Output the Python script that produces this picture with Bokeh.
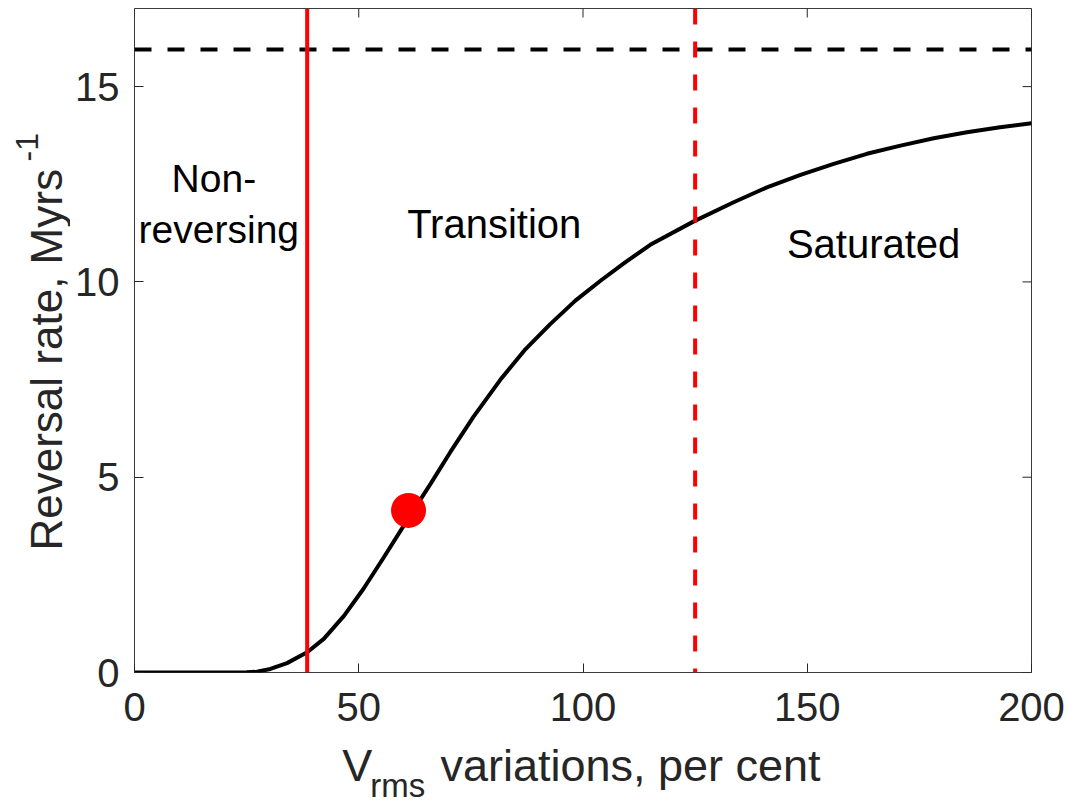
from math import pi
from bokeh.plotting import figure
from bokeh.layouts import row, column
from bokeh.models import Range1d, FixedTicker, Span, Label
from bokeh.core.properties import value
from bokeh.embed import file_html
from bokeh.resources import INLINE

# ---- data ----
vrms = [0, 10, 20, 25, 27.3, 30.3, 34.0, 38.5, 42.2, 46.7, 51.1, 55.6, 61.2, 66.0,
        70.4, 75.6, 81.6, 87.2, 92.7, 98.3, 103.9, 109.4, 115.0, 124.7, 133.6,
        141.0, 148.5, 155.9, 163.3, 170.8, 178.2, 185.6, 193.0, 200]
rate = [0, 0, 0, 0.005, 0.02, 0.09, 0.24, 0.52, 0.86, 1.45, 2.15, 2.95, 3.97, 4.83,
        5.64, 6.55, 7.5, 8.28, 8.92, 9.52, 10.03, 10.5, 10.95, 11.55, 12.04,
        12.42, 12.74, 13.02, 13.28, 13.49, 13.68, 13.83, 13.96, 14.06]
point_x = [61.1]
point_y = [4.15]
onset_vrms = 38.5        # red solid line
saturation_vrms = 125.0  # red dashed line
max_rate = 15.95         # black dashed line
x_ticks = [0, 50, 100, 150, 200]
y_ticks = [0, 5, 10, 15]
regions = ["Non-", "reversing", "Transition", "Saturated"]
xlabel_parts = ["V", "rms", "variations, per cent"]
ylabel_parts = ["Reversal rate, Myrs", "-1"]

AX = "#262626"
FONT = "Liberation Sans"
X_MIN, X_MAX, Y_MIN, Y_MAX = 0, 200, 0, 17

LEFT_W = 70      # width of the y-label strip
BOTTOM_H = 67    # height of the x-label strip
W, H = 1067, 804

# ---------------- main plot ----------------
p = figure(width=W - LEFT_W, height=H - BOTTOM_H, output_backend="svg",
           toolbar_location=None,
           x_range=Range1d(X_MIN, X_MAX), y_range=Range1d(Y_MIN, Y_MAX),
           min_border_left=134 - LEFT_W, min_border_right=36, min_border_top=8,
           min_border_bottom=H - BOTTOM_H - 672)
p.background_fill_color = "white"
p.border_fill_color = "white"
p.grid.visible = False
p.outline_line_color = "#3a3a3a"
p.outline_line_width = 1

p.xaxis.ticker = FixedTicker(ticks=x_ticks)
p.yaxis.ticker = FixedTicker(ticks=y_ticks)
for ax in (p.xaxis[0], p.yaxis[0]):
    ax.axis_line_color = None
    ax.major_tick_in = 9
    ax.major_tick_out = 0
    ax.major_tick_line_color = AX
    ax.minor_tick_line_color = None
    ax.major_label_text_font = FONT
    ax.major_label_text_font_size = "40px"
    ax.major_label_text_color = AX
p.xaxis.major_label_standoff = 20
p.yaxis.major_label_standoff = 15

# mirrored inward ticks on the top and right edges (clipped half of a dash marker)
p.scatter(x_ticks, [Y_MAX] * len(x_ticks), marker="dash", angle=pi / 2, size=18,
          line_color=AX, line_width=1)
p.scatter([X_MAX] * len(y_ticks), y_ticks, marker="dash", size=18,
          line_color=AX, line_width=1)

# curve and point
p.line(vrms, rate, line_color="black", line_width=4)
p.scatter(point_x, point_y, size=35, fill_color="#ff0000", line_color=None)

p.add_layout(Span(location=max_rate, dimension="width", line_color="black",
                  line_width=4, line_dash="17 16"))
p.add_layout(Span(location=onset_vrms, dimension="height", line_color="#ff0000",
                  line_width=4))
p.add_layout(Span(location=saturation_vrms, dimension="height", line_color="#ff0000",
                  line_width=4, line_dash="16 17"))


def note(txt, x, y, size):
    p.add_layout(Label(x=x, y=y, text=txt, text_align="center",
                       text_baseline="alphabetic", text_font=FONT,
                       text_font_size=size, text_color="black"))


note(regions[0], 17.7, 12.65, "39px")
note(regions[1], 18.8, 11.34, "39px")
note(regions[2], 80.2, 11.47, "40px")
note(regions[3], 164.8, 10.97, "40px")


def blank(width, height):
    f = figure(width=width, height=height, output_backend="svg", toolbar_location=None,
               x_range=Range1d(0, width), y_range=Range1d(0, height),
               x_axis_location=None, y_axis_location=None,
               min_border=0, outline_line_color=None)
    f.grid.visible = False
    f.background_fill_color = "white"
    f.border_fill_color = "white"
    return f


# ---------------- x-label strip (pixel coordinates, y up) ----------------
xl = blank(W - LEFT_W, BOTTOM_H)
xl.text(x=[301 - LEFT_W], y=[39], text=[xlabel_parts[0]], text_font=value(FONT),
        text_font_size="45px", text_color=AX, text_align="left",
        text_baseline="alphabetic")
xl.text(x=[332 - LEFT_W], y=[19], text=[xlabel_parts[1]], text_font=value(FONT),
        text_font_size="33px", text_color=AX, text_align="left",
        text_baseline="alphabetic")
xl.text(x=[410 - LEFT_W], y=[39], text=[xlabel_parts[2]], text_font=value(FONT),
        text_font_size="45px", text_color=AX, text_align="left",
        text_baseline="alphabetic")

# ---------------- y-label strip ----------------
yl = blank(LEFT_W, H)
yl.text(x=[46], y=[H - 550], text=[ylabel_parts[0]], text_font=value(FONT),
        text_font_size="44px", text_color=AX, text_align="left",
        text_baseline="alphabetic", angle=pi / 2)
yl.text(x=[26], y=[H - 161], text=[ylabel_parts[1]], text_font=value(FONT),
        text_font_size="32px", text_color=AX, text_align="left",
        text_baseline="alphabetic", angle=pi / 2)

layout = row(yl, column(p, xl, spacing=0), spacing=0)
open("out.html", "w").write(file_html(layout, INLINE))
